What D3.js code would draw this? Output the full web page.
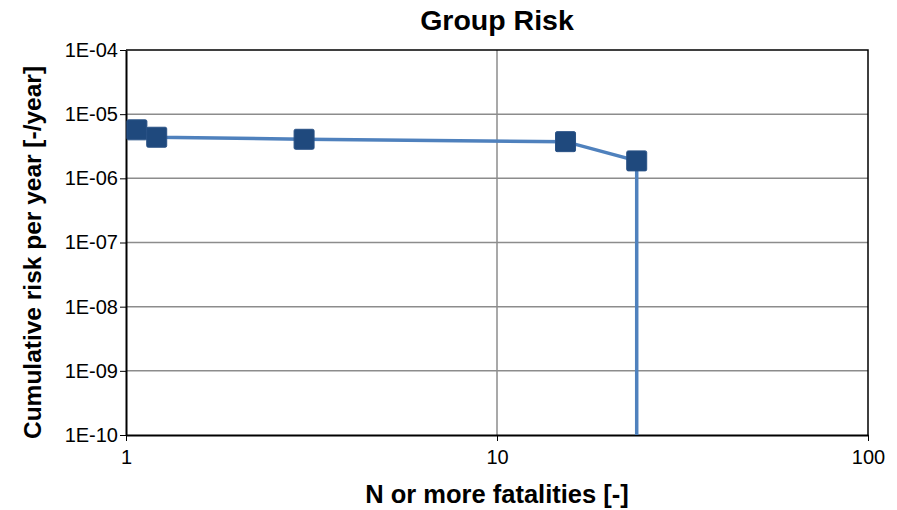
<!DOCTYPE html>
<html>
<head>
<meta charset="utf-8">
<script src="https://cdn.jsdelivr.net/npm/d3@7"></script>
<style>
  body { margin: 0; background: #fff; }
  text { font-family: "Liberation Sans", Arial, sans-serif; }
</style>
</head>
<body>
<svg id="chart"></svg>
<script>
// Data (N, cumulative risk per year)
const fatalities = [1.07, 1.21, 3.02, 15.3, 23.8];
const risk = [5.7e-6, 4.37e-6, 4.06e-6, 3.73e-6, 1.87e-6];
// the curve drops to the bottom of the axis after the last point
const drop_risk = 1e-10;
const x_ticks = [1, 10, 100];
const y_ticks = [1e-4, 1e-5, 1e-6, 1e-7, 1e-8, 1e-9, 1e-10];

const width = 897, height = 510;
const margins = { top: 50, right: 29, bottom: 75, left: 126 };
const chart_width = width - margins.left - margins.right;
const chart_height = height - margins.top - margins.bottom;

const svg = d3.select("#chart")
    .attr("width", width)
    .attr("height", height);

const g = svg.append("g")
    .attr("transform", `translate(${margins.left},${margins.top})`);

const x_scale = d3.scaleLog().domain([1, 100]).range([0, chart_width]);
const y_scale = d3.scaleLog().domain([1e-10, 1e-4]).range([chart_height, 0]);

// Gridlines
g.selectAll(".hgrid")
    .data(y_ticks.slice(1, -1))
    .enter()
    .append("line")
    .attr("x1", 0).attr("x2", chart_width)
    .attr("y1", d => y_scale(d)).attr("y2", d => y_scale(d))
    .attr("stroke", "#8c8c8c").attr("stroke-width", 1.5);

g.selectAll(".vgrid")
    .data(x_ticks.slice(1, -1))
    .enter()
    .append("line")
    .attr("x1", d => x_scale(d)).attr("x2", d => x_scale(d))
    .attr("y1", 0).attr("y2", chart_height)
    .attr("stroke", "#8c8c8c").attr("stroke-width", 1.5);

// Plot border (top and right)
g.append("path")
    .attr("d", `M0,0H${chart_width}V${chart_height}`)
    .attr("fill", "none").attr("stroke", "#000").attr("stroke-width", 1.5);

// Axes
const x_axis = g.append("g")
    .attr("transform", `translate(0,${chart_height})`)
    .call(d3.axisBottom(x_scale).tickValues(x_ticks).tickFormat(d3.format("d")).tickSize(6).tickSizeOuter(0));
const y_axis = g.append("g")
    .call(d3.axisLeft(y_scale).tickValues(y_ticks)
        .tickFormat(d => "1E-" + String(Math.round(-Math.log10(d))).padStart(2, "0"))
        .tickSize(6).tickSizeOuter(0));

[x_axis, y_axis].forEach(a => {
    a.attr("font-size", 20).attr("font-family", "Liberation Sans, Arial, sans-serif");
    a.select(".domain").attr("stroke", "#000").attr("stroke-width", 2);
    a.selectAll(".tick line").attr("stroke", "#000").attr("stroke-width", 1);
    a.selectAll(".tick text").attr("fill", "#000");
});
x_axis.selectAll(".tick text").attr("dy", "1.0em");
y_axis.selectAll(".tick text").attr("x", -8);

// Line
const line_points = fatalities.map((d, i) => [d, risk[i]]);
line_points.push([fatalities[fatalities.length - 1], drop_risk]);

const line = d3.line()
    .x(d => x_scale(d[0]))
    .y(d => y_scale(d[1]));

g.append("path")
    .datum(line_points)
    .attr("d", line)
    .attr("fill", "none")
    .attr("stroke", "#4f81bd")
    .attr("stroke-width", 3.5);

// Square markers
const marker_size = 20;
g.selectAll(".marker")
    .data(fatalities)
    .enter()
    .append("rect")
    .attr("x", d => x_scale(d) - marker_size / 2)
    .attr("y", (d, i) => y_scale(risk[i]) - marker_size / 2)
    .attr("width", marker_size)
    .attr("height", marker_size)
    .attr("rx", 1.5)
    .attr("fill", "#1f497d")
    .attr("stroke", "#2a5286")
    .attr("stroke-width", 1);

// Titles
svg.append("text")
    .attr("x", margins.left + chart_width / 2)
    .attr("y", 30)
    .attr("text-anchor", "middle")
    .attr("font-size", 28.5)
    .attr("font-weight", "bold")
    .text("Group Risk");

svg.append("text")
    .attr("x", margins.left + chart_width / 2)
    .attr("y", 503)
    .attr("text-anchor", "middle")
    .attr("font-size", 25.5)
    .attr("font-weight", "bold")
    .text("N or more fatalities [-]");

svg.append("text")
    .attr("transform", `translate(41,${margins.top + chart_height / 2 + 10}) rotate(-90)`)
    .attr("text-anchor", "middle")
    .attr("font-size", 24.5)
    .attr("font-weight", "bold")
    .text("Cumulative risk per year [-/year]");
</script>
</body>
</html>
